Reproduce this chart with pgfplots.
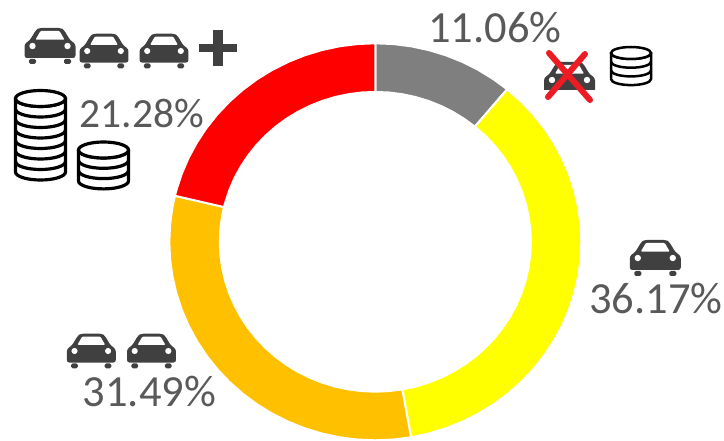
\documentclass[border=0pt]{standalone}
\usepackage{pgfplots}
\pgfplotsset{compat=1.18}
\usepackage{fontspec}
\setmainfont{Carlito}
\definecolor{lab}{HTML}{595959}
\definecolor{ic}{HTML}{404040}
\definecolor{cgray}{HTML}{7F7F7F}
\definecolor{cyel}{HTML}{FFFF00}
\definecolor{corg}{HTML}{FFC000}
\definecolor{cred}{HTML}{FF0000}
\definecolor{xred}{HTML}{ED1C24}
% car centred at pixel (x,y); #3 = scale
\newcommand\car[3]{%
 \begin{scope}[shift={(#1,440-#2)},scale=#3]
  \fill[ic,rounded corners=1.5pt] (-14,-13) rectangle (-21,-18);
  \fill[ic,rounded corners=1.5pt] (14,-13) rectangle (21,-18);
  \fill[ic,rounded corners=2.5pt] (-25.5,-12)--(-25.5,2)--(-20,6)--(-14,16)--(-11,18)--(11,18)--(14,16)--(20,6)--(25.5,2)--(25.5,-12)--cycle;
  \fill[white,rounded corners=1pt] (-14.5,6.3)--(-9.5,15)--(9.5,15)--(14.5,6.3)--cycle;
  \fill[white] (-17.5,0) circle (3.2) (17.5,0) circle (3.2);
 \end{scope}}
% coin stack: cx, top cy (pixels), rx, ry, n, step, line width
\newcommand\coins[7]{%
 \begin{scope}[shift={(#1,440-#2)}]
  \draw[black,line width=#7pt,fill=white] (-#3,0) -- (-#3,-#5*#6) arc (180:360:#3 and #4) -- (#3,0);
  \foreach \i in {1,...,#5}{
   \draw[black,line width=#7pt] (-#3,-\i*#6+#6) arc (180:360:#3 and #4);
  }
  \draw[black,line width=#7pt,fill=white] (0,0) ellipse (#3 and #4);
 \end{scope}}
\begin{document}
\begin{tikzpicture}
\useasboundingbox (0,0) rectangle (724pt,440pt);
\begin{axis}[
  at={(0pt,0pt)},anchor=south west,
  scale only axis,width=724pt,height=440pt,hide axis,clip=false,
  xmin=-1.8218,xmax=1.6927,ymin=-0.9985,ymax=1.2181]
% 11.06%
\addplot[data cs=polar,fill=cgray,draw=white,line width=2pt] coordinates {
(90,1)(85,1)(80,1)(75,1)(70,1)(65,1)(60,1)(55,1)(50.2,1)
(50.2,.755)(55,.755)(60,.755)(65,.755)(70,.755)(75,.755)(80,.755)(85,.755)(90,.755)} --cycle;
% 36.17%
\addplot[data cs=polar,fill=cyel,draw=white,line width=2pt] coordinates {
(50.2,1)(45,1)(40,1)(35,1)(30,1)(25,1)(20,1)(15,1)(10,1)(5,1)(0,1)(-5,1)(-10,1)(-15,1)(-20,1)(-25,1)(-30,1)(-35,1)(-40,1)(-45,1)(-50,1)(-55,1)(-60,1)(-65,1)(-70,1)(-75,1)(-80,1)
(-80,.755)(-75,.755)(-70,.755)(-65,.755)(-60,.755)(-55,.755)(-50,.755)(-45,.755)(-40,.755)(-35,.755)(-30,.755)(-25,.755)(-20,.755)(-15,.755)(-10,.755)(-5,.755)(0,.755)(5,.755)(10,.755)(15,.755)(20,.755)(25,.755)(30,.755)(35,.755)(40,.755)(45,.755)(50.2,.755)} --cycle;
% 31.49%
\addplot[data cs=polar,fill=corg,draw=white,line width=2pt] coordinates {
(-80,1)(-85,1)(-90,1)(-95,1)(-100,1)(-105,1)(-110,1)(-115,1)(-120,1)(-125,1)(-130,1)(-135,1)(-140,1)(-145,1)(-150,1)(-155,1)(-160,1)(-165,1)(-170,1)(-175,1)(-180,1)(-185,1)(-190,1)(-193.4,1)
(-193.4,.755)(-190,.755)(-185,.755)(-180,.755)(-175,.755)(-170,.755)(-165,.755)(-160,.755)(-155,.755)(-150,.755)(-145,.755)(-140,.755)(-135,.755)(-130,.755)(-125,.755)(-120,.755)(-115,.755)(-110,.755)(-105,.755)(-100,.755)(-95,.755)(-90,.755)(-85,.755)(-80,.755)} --cycle;
% 21.28%
\addplot[data cs=polar,fill=cred,draw=white,line width=2pt] coordinates {
(-193.4,1)(-195,1)(-200,1)(-205,1)(-210,1)(-215,1)(-220,1)(-225,1)(-230,1)(-235,1)(-240,1)(-245,1)(-250,1)(-255,1)(-260,1)(-265,1)(-270,1)
(-270,.755)(-265,.755)(-260,.755)(-255,.755)(-250,.755)(-245,.755)(-240,.755)(-235,.755)(-230,.755)(-225,.755)(-220,.755)(-215,.755)(-210,.755)(-205,.755)(-200,.755)(-195,.755)(-193.4,.755)} --cycle;
\end{axis}
\begin{scope}[x=1pt,y=1pt]
 \tikzset{lbl/.style={anchor=base,text=lab,font=\fontsize{44.5}{44.5}\selectfont,inner sep=0pt}}
 \node[lbl] at (495,440-43) {11.06\%};
 \node[lbl,font=\fontsize{41.5}{41.5}\selectfont] at (142,440-128) {21.28\%};
 \node[lbl] at (656,440-313) {36.17\%};
 \node[lbl] at (149.5,440-406) {31.49\%};
 \car{50}{46}{1}
 \car{104}{51}{.96}
 \car{164}{51}{.96}
 \fill[ic] (199,440-44)rectangle(237,440-52);
 \fill[ic] (213,440-30)rectangle(223,440-66);
 \coins{40.5}{98.5}{25}{8}{7}{10.5}{3.2}
 \coins{103.5}{150}{25}{8}{3}{10.3}{3.2}
 \coins{631}{53}{20}{6}{3}{8.7}{2.5}
 \car{655.3}{258}{1}
 \car{91.3}{351}{.96}
 \car{151.5}{351}{.96}
 \begin{scope}
  \clip (530,440-90) rectangle (610,440-55);
  \car{569.5}{80}{1}
 \end{scope}
 \draw[xred,line width=6pt,line cap=round] (549,440-53)--(590,440-100);
 \draw[xred,line width=6pt,line cap=round] (585,440-54)--(548,440-97);
\end{scope}
\end{tikzpicture}
\end{document}
